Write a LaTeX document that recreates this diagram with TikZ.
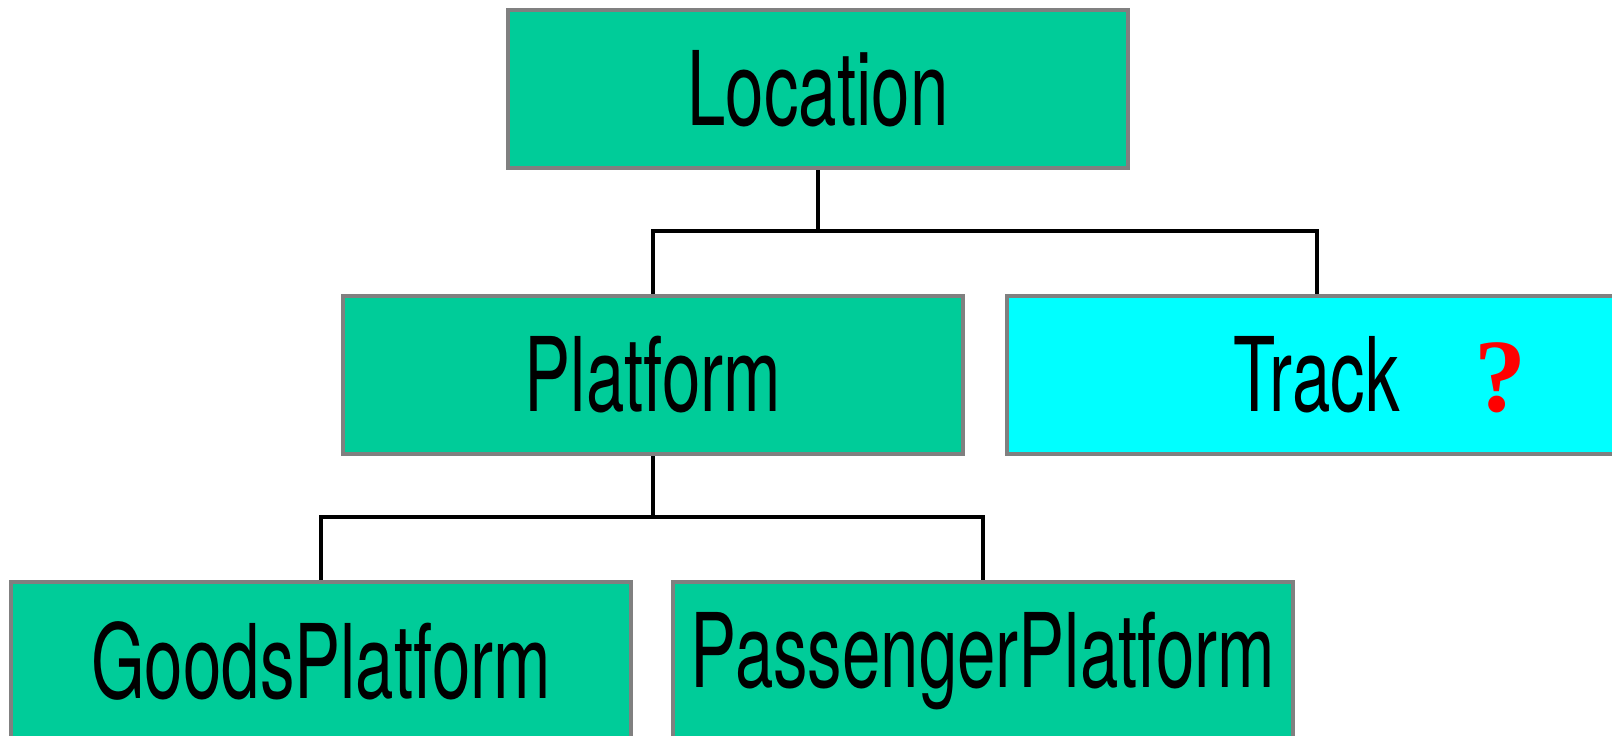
\documentclass[tikz,border=0pt]{standalone}
\usepackage{fontspec}
\newfontfamily\narrowfont[FakeStretch=0.67]{TeX Gyre Heros}
\newfontfamily\serifmark{Liberation Serif}
\definecolor{classgreen}{RGB}{0,204,153}
\definecolor{classcyan}{RGB}{0,255,255}
\definecolor{boxedge}{RGB}{128,128,128}
\begin{document}
\begin{tikzpicture}[x=1pt,y=-1pt,
  classbox/.style={draw=boxedge, line width=4.5pt, fill=classgreen,
    minimum width=620pt, minimum height=158pt, inner sep=0pt,
    font=\narrowfont\fontsize{103}{105}\selectfont},
  link/.style={draw=black, line width=3.5pt}]
\useasboundingbox (0,0) rectangle (1612,736);
\clip (0,0) rectangle (1612,736);

% class boxes
\node[classbox] (loc)   at (818,89)   {Location};
\node[classbox] (plat)  at (653,375) {Platform};
\node[classbox, fill=classcyan] (track) at (1317,375) {Track};
\node[text=red, font=\serifmark\bfseries\fontsize{104}{106}\selectfont, inner sep=0pt]
  (q) at (1500,378) {?};
\node[classbox] (goods) at (321,661) {GoodsPlatform};
\node[classbox] (pass)  at (983,661) {PassengerPlatform};

% inheritance tree
\coordinate (j1) at (loc.south |- 0,231);
\coordinate (j2) at (plat.south |- 0,517);
\draw[link] (loc.south) -- (j1);
\draw[link] (plat.north) |- (j1) -| (track.north);
\draw[link] (plat.south) -- (j2);
\draw[link] (goods.north) |- (j2) -| (pass.north);
\end{tikzpicture}
\end{document}
